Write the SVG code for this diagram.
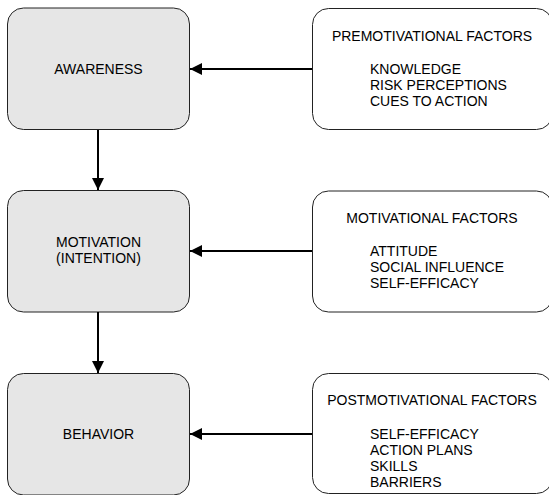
<svg xmlns="http://www.w3.org/2000/svg" width="549" height="495" viewBox="0 0 549 495">
<style>
.stage{fill:#e6e6e6;stroke:#222;stroke-width:1}
.factor{fill:#fff;stroke:#222;stroke-width:1}
text{font-family:"Liberation Sans",Arial,sans-serif;font-size:14px;fill:#000}
.c{text-anchor:middle}
.conn{stroke:#000;stroke-width:2;fill:none;marker-end:url(#ah)}
</style>
<defs>
<marker id="ah" viewBox="0 0 12 12" refX="12" refY="6" markerWidth="12" markerHeight="12" markerUnits="userSpaceOnUse" orient="auto">
<path d="M0,0 L12,6 L0,12 Z" fill="#000"/>
</marker>
</defs>
<g id="awareness">
<rect class="stage" x="7.5" y="8" width="182" height="121.5" rx="16"/>
<text class="c" x="98.5" y="74">AWARENESS</text>
</g>
<g id="motivation">
<rect class="stage" x="7.5" y="190.5" width="182" height="121.5" rx="16"/>
<text class="c" x="98.5" y="247">MOTIVATION</text>
<text class="c" x="98.5" y="263">(INTENTION)</text>
</g>
<g id="behavior">
<rect class="stage" x="7.5" y="373.5" width="182" height="121.5" rx="16"/>
<text class="c" x="98.5" y="439">BEHAVIOR</text>
</g>
<g id="premotivational">
<rect class="factor" x="312.5" y="8.5" width="240" height="121" rx="16"/>
<text class="c" x="432" y="41">PREMOTIVATIONAL FACTORS</text>
<text x="370" y="74">KNOWLEDGE</text>
<text x="370" y="90">RISK PERCEPTIONS</text>
<text x="370" y="106">CUES TO ACTION</text>
</g>
<g id="motivational">
<rect class="factor" x="312.5" y="191" width="240" height="121" rx="16"/>
<text class="c" x="432" y="223">MOTIVATIONAL FACTORS</text>
<text x="370" y="256">ATTITUDE</text>
<text x="370" y="272">SOCIAL INFLUENCE</text>
<text x="370" y="288">SELF-EFFICACY</text>
</g>
<g id="postmotivational">
<rect class="factor" x="312.5" y="373.5" width="240" height="120" rx="16"/>
<text class="c" x="432" y="405">POSTMOTIVATIONAL FACTORS</text>
<text x="370" y="439">SELF-EFFICACY</text>
<text x="370" y="455">ACTION PLANS</text>
<text x="370" y="471">SKILLS</text>
<text x="370" y="487">BARRIERS</text>
</g>
<g id="connectors">
<line class="conn" x1="312" y1="69" x2="190" y2="69"/>
<line class="conn" x1="312" y1="251" x2="190" y2="251"/>
<line class="conn" x1="312" y1="434" x2="190" y2="434"/>
<line class="conn" x1="98" y1="130" x2="98" y2="190"/>
<line class="conn" x1="98" y1="312" x2="98" y2="373"/>
</g>
</svg>
